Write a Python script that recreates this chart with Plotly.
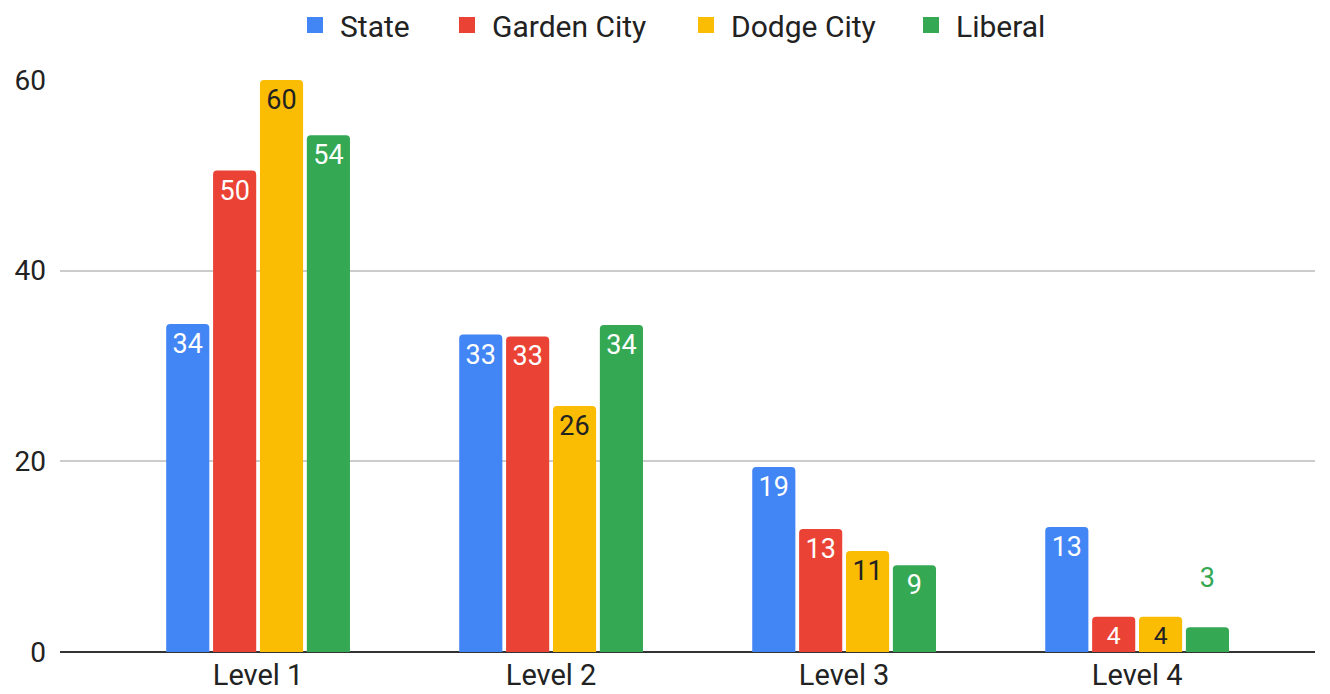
import plotly.graph_objects as go

categories = ["Level 1", "Level 2", "Level 3", "Level 4"]
series_names = ["State", "Garden City", "Dodge City", "Liberal"]
state = [34.4, 33.3, 19.4, 13.1]
garden_city = [50.5, 33.1, 12.9, 3.7]
dodge_city = [60.0, 25.8, 10.6, 3.7]
liberal = [54.2, 34.3, 9.1, 2.6]
y_ticks = [0, 20, 40, 60]

colors = ["#4285F4", "#EA4335", "#FBBC04", "#34A853"]
label_colors = ["white", "white", "#222222", "white"]
all_values = [state, garden_city, dodge_city, liberal]
# legend swatch left edges and entry widths in page pixels (reference)
legend_x_px = [290, 442, 681, 906]
legend_w_px = [140, 225, 212, 130]

FONT = "Roboto, Arial, sans-serif"
W, H = 1322, 686  # page body has an 8px margin
ML, MR, MT, MB = 52, 15, 72, 42

fig = go.Figure()
for i, (name, vals, col, lcol) in enumerate(zip(series_names, all_values, colors, label_colors)):
    positions, tcolors, texts = [], [], []
    for v in vals:
        if v < 3:
            positions.append("outside")
            tcolors.append(col)
            texts.append(f"{round(v)}<br><span style='font-size:8px'> </span>")
        else:
            positions.append("inside")
            tcolors.append(lcol)
            texts.append(f"{round(v)}")
    fig.add_trace(go.Bar(
        name=name, x=categories, y=vals,
        marker=dict(color=col, cornerradius=4, line=dict(width=0)),
        text=texts,
        textposition=positions,
        insidetextanchor="end",
        textangle=0,
        textfont=dict(size=27, color=tcolors, family=FONT),
        constraintext="none",
        cliponaxis=False,
        hoverinfo="skip",
        showlegend=False,
    ))
    lg = "legend" if i == 0 else f"legend{i+1}"
    fig.add_trace(go.Scatter(
        name=name, x=[None], y=[None], mode="markers",
        marker=dict(symbol="square", size=16, color=col),
        showlegend=True, hoverinfo="skip", legend=lg,
    ))
    xpaper = ((legend_x_px[i] - 8) - ML) / (W - ML - MR)
    fig.update_layout({lg: dict(orientation="h", x=xpaper, xanchor="left",
                                y=1 - 17 / H, yanchor="middle", yref="container",
                                entrywidth=legend_w_px[i], entrywidthmode="pixels",
                                font=dict(size=30, color="#222222", family=FONT),
                                itemwidth=40, bgcolor="rgba(0,0,0,0)")})

fig.update_layout(
    width=W, height=H,
    margin=dict(l=ML, r=MR, t=MT, b=MB, autoexpand=False),
    paper_bgcolor="white", plot_bgcolor="white",
    barmode="group", bargap=0.36, bargroupgap=0.08,
    font=dict(family=FONT, size=28, color="#222222"),
    showlegend=True,
)
fig.update_xaxes(range=[-0.676, 3.607], showgrid=False, showline=False, automargin=False,
                 ticks="", ticklabelstandoff=3, tickfont=dict(size=29, color="#222222"))
fig.update_yaxes(range=[0, 60], tickvals=y_ticks, showgrid=True, gridcolor="#cccccc",
                 gridwidth=1.5, zeroline=True, zerolinecolor="#333333", zerolinewidth=2,
                 automargin=False,
                 tickfont=dict(size=28, color="#222222"), ticks="", ticklabelstandoff=13)

fig.write_html("out.html")
